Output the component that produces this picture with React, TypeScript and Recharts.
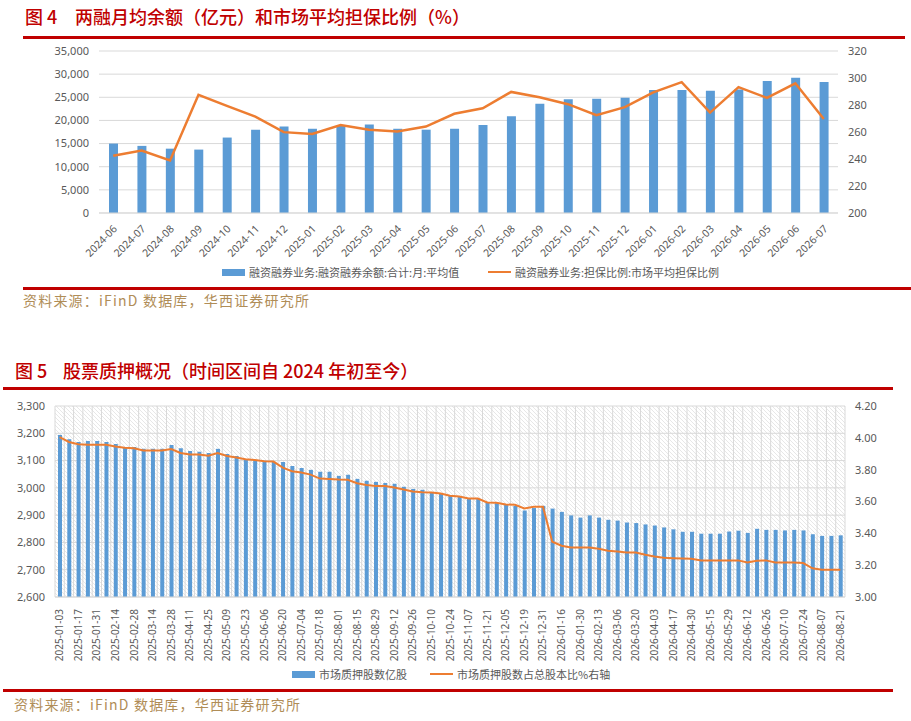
import React from "react";
import {
  ComposedChart,
  Bar,
  Line,
  XAxis,
  YAxis,
  CartesianGrid,
} from "recharts";

// 图4 两融月均余额 / 市场平均担保比例
const months = [
  "2024-06", "2024-07", "2024-08", "2024-09", "2024-10", "2024-11", "2024-12",
  "2025-01", "2025-02", "2025-03", "2025-04", "2025-05", "2025-06", "2025-07",
  "2025-08", "2025-09", "2025-10", "2025-11", "2025-12", "2026-01", "2026-02",
  "2026-03", "2026-04", "2026-05", "2026-06", "2026-07",
];
const marginBalance = [
  15000, 14500, 13900, 13700, 16300, 18000, 18700, 18200, 18800, 19100, 18200,
  18000, 18200, 19000, 20900, 23600, 24600, 24700, 24900, 26600, 26600, 26400,
  26700, 28500, 29200, 28300,
];
const collateralRatio = [
  242.4, 246.3, 238.9, 287.5, 279.3, 271.4, 259.9, 258.6, 265.1, 261.6, 260.3,
  264.0, 273.5, 277.6, 289.7, 285.8, 280.6, 272.5, 278.4, 289.4, 296.9, 274.4,
  293.2, 285.3, 296.1, 269.7,
];
const balanceTicks = [0, 5000, 10000, 15000, 20000, 25000, 30000, 35000];
const ratioTicks = [200, 220, 240, 260, 280, 300, 320];

// 图5 股票质押概况
const weeks = [
  "2025-01-03", "2025-01-10", "2025-01-17", "2025-01-24", "2025-01-31", "2025-02-07",
  "2025-02-14", "2025-02-21", "2025-02-28", "2025-03-07", "2025-03-14", "2025-03-21",
  "2025-03-28", "2025-04-04", "2025-04-11", "2025-04-18", "2025-04-25", "2025-05-02",
  "2025-05-09", "2025-05-16", "2025-05-23", "2025-05-30", "2025-06-06", "2025-06-13",
  "2025-06-20", "2025-06-27", "2025-07-04", "2025-07-11", "2025-07-18", "2025-07-25",
  "2025-08-01", "2025-08-08", "2025-08-15", "2025-08-22", "2025-08-29", "2025-09-05",
  "2025-09-12", "2025-09-19", "2025-09-26", "2025-10-03", "2025-10-10", "2025-10-17",
  "2025-10-24", "2025-10-31", "2025-11-07", "2025-11-14", "2025-11-21", "2025-11-28",
  "2025-12-05", "2025-12-12", "2025-12-19", "2025-12-26", "2025-12-31", "2026-01-09",
  "2026-01-16", "2026-01-23", "2026-01-30", "2026-02-06", "2026-02-13", "2026-02-27",
  "2026-03-06", "2026-03-13", "2026-03-20", "2026-03-27", "2026-04-03", "2026-04-10",
  "2026-04-17", "2026-04-24", "2026-04-30", "2026-05-08", "2026-05-15", "2026-05-22",
  "2026-05-29", "2026-06-05", "2026-06-12", "2026-06-19", "2026-06-26", "2026-07-03",
  "2026-07-10", "2026-07-17", "2026-07-24", "2026-07-31", "2026-08-07", "2026-08-14",
  "2026-08-21",
];
const pledgedShares = [
  3194, 3178, 3168, 3172, 3172, 3168, 3161, 3150, 3150, 3143,
  3143, 3143, 3157, 3145, 3135, 3132, 3128, 3143, 3124, 3117,
  3106, 3102, 3099, 3095, 3095, 3080, 3073, 3066, 3059, 3059,
  3044, 3048, 3033, 3026, 3022, 3018, 3015, 3004, 2996, 2993,
  2985, 2978, 2971, 2968, 2962, 2959, 2946, 2944, 2938, 2934,
  2917, 2926, 2934, 2924, 2912, 2899, 2891, 2899, 2891, 2883,
  2880, 2873, 2871, 2866, 2862, 2855, 2848, 2839, 2839, 2832,
  2832, 2832, 2840, 2843, 2835, 2850, 2846, 2846, 2844, 2846,
  2844, 2830, 2824, 2824, 2826,
];
const pledgeRatio = [
  4.004, 3.974, 3.96, 3.957, 3.957, 3.957, 3.945, 3.937, 3.934, 3.92,
  3.92, 3.92, 3.93, 3.905, 3.895, 3.895, 3.888, 3.905, 3.886, 3.876,
  3.865, 3.861, 3.853, 3.851, 3.813, 3.79, 3.782, 3.769, 3.744, 3.742,
  3.738, 3.736, 3.715, 3.704, 3.698, 3.698, 3.688, 3.675, 3.663, 3.658,
  3.656, 3.65, 3.636, 3.631, 3.619, 3.619, 3.594, 3.592, 3.581, 3.579,
  3.556, 3.567, 3.567, 3.347, 3.322, 3.311, 3.311, 3.311, 3.303, 3.291,
  3.286, 3.28, 3.28, 3.265, 3.255, 3.247, 3.244, 3.242, 3.24, 3.23,
  3.23, 3.23, 3.23, 3.23, 3.217, 3.228, 3.23, 3.217, 3.217, 3.217,
  3.213, 3.18, 3.171, 3.171, 3.171,
];
const sharesTicks = [2600, 2700, 2800, 2900, 3000, 3100, 3200, 3300];
const pctTicks = [3.0, 3.2, 3.4, 3.6, 3.8, 4.0, 4.2];

const BLUE = "#5b9bd5";
const ORANGE = "#ed7d31";
const RED = "#c00000";
const AXIS_TEXT = "#595959";
const GRID = "#d9d9d9";
const SOURCE = "#b08d57";
const FONT = '"Noto Sans", "Noto Sans CJK SC", sans-serif';
const CJK = '"Noto Sans CJK SC", sans-serif';

const data1 = months.map((m, i) => ({
  month: m,
  balance: marginBalance[i],
  ratio: collateralRatio[i],
}));

const data2 = weeks.map((d, i) => ({
  date: d,
  shares: pledgedShares[i],
  pct: pledgeRatio[i],
}));

const MonthTick = ({ x, y, payload }: any) => (
  <text
    x={x + 2}
    y={y + 6}
    dy="0.35em"
    textAnchor="end"
    fill={AXIS_TEXT}
    fontSize={10.5}
    fontFamily={FONT}
    transform={`rotate(-45, ${x + 2}, ${y + 6})`}
  >
    {payload.value}
  </text>
);

const DateTick = ({ x, y, payload }: any) => (
  <text
    x={x}
    y={y + 4}
    dy="0.35em"
    textAnchor="end"
    fill={AXIS_TEXT}
    fontSize={10}
    fontFamily={FONT}
    transform={`rotate(-90, ${x}, ${y + 4})`}
  >
    {payload.value}
  </text>
);

const Rule = ({ top, left, right }: { top: number; left: number; right: number }) => (
  <div
    style={{
      position: "absolute",
      top,
      left,
      width: right - left,
      height: 3,
      background: RED,
    }}
  />
);

const Title = ({ top, left, label, gap, text }: any) => (
  <div
    style={{
      position: "absolute",
      top,
      left,
      color: RED,
      fontFamily: CJK,
      fontSize: 18,
      fontWeight: 500,
      whiteSpace: "pre",
      lineHeight: "22px",
    }}
  >
    <span style={{ display: "inline-block", width: gap }}>{label}</span>
    <span>{text}</span>
  </div>
);

const Source = ({ top, left }: { top: number; left: number }) => (
  <div
    style={{
      position: "absolute",
      top,
      left,
      color: SOURCE,
      fontFamily: CJK,
      fontSize: 14,
      letterSpacing: 1.2,
      lineHeight: "18px",
      whiteSpace: "pre",
    }}
  >
    资料来源：iFinD 数据库，华西证券研究所
  </div>
);

const LegendItem = ({ top, left, kind, label }: any) => (
  <div
    style={{
      position: "absolute",
      top,
      left,
      display: "flex",
      alignItems: "center",
      fontFamily: CJK,
      fontSize: 11,
      color: AXIS_TEXT,
      whiteSpace: "pre",
      lineHeight: "14px",
    }}
  >
    <span
      style={{
        display: "inline-block",
        width: 23,
        height: kind === "bar" ? 7 : 2.5,
        background: kind === "bar" ? BLUE : ORANGE,
        marginRight: 4,
      }}
    />
    {label}
  </div>
);

export default function App() {
  return (
    <div
      style={{
        position: "absolute",
        top: 0,
        left: 0,
        width: 911,
        height: 721,
        background: "#fff",
        overflow: "hidden",
      }}
    >
      <Title
        top={5}
        left={25}
        gap={50}
        label="图 4"
        text="两融月均余额（亿元）和市场平均担保比例（%）"
      />
      <Rule top={36} left={23} right={905} />

      <div style={{ position: "absolute", top: 0, left: 0 }}>
        <ComposedChart
          width={911}
          height={300}
          data={data1}
          margin={{ top: 51, right: 28, bottom: 37, left: 39 }}
        >
          <CartesianGrid yAxisId="left" vertical={false} stroke={GRID} />
          <XAxis
            dataKey="month"
            interval={0}
            height={50}
            tickLine={false}
            axisLine={{ stroke: GRID }}
            tick={<MonthTick />}
          />
          <YAxis
            yAxisId="left"
            width={60}
            domain={[0, 35000]}
            ticks={balanceTicks}
            axisLine={false}
            tickLine={false}
            tickMargin={4}
            tick={{ fill: AXIS_TEXT, fontSize: 11, fontFamily: FONT }}
            tickFormatter={(v: number) => v.toLocaleString("en-US")}
          />
          <YAxis
            yAxisId="right"
            orientation="right"
            width={45}
            domain={[200, 320]}
            ticks={ratioTicks}
            axisLine={false}
            tickLine={false}
            tickMargin={4}
            tick={{ fill: AXIS_TEXT, fontSize: 11, fontFamily: FONT }}
          />
          <Bar
            yAxisId="left"
            dataKey="balance"
            fill={BLUE}
            barSize={9}
            isAnimationActive={false}
          />
          <Line
            yAxisId="right"
            dataKey="ratio"
            type="linear"
            stroke={ORANGE}
            strokeWidth={2.5}
            dot={false}
            activeDot={false}
            isAnimationActive={false}
          />
        </ComposedChart>
      </div>

      <LegendItem
        top={265}
        left={222}
        kind="bar"
        label="融资融券业务:融资融券余额:合计:月:平均值"
      />
      <LegendItem
        top={265}
        left={488}
        kind="line"
        label="融资融券业务:担保比例:市场平均担保比例"
      />
      <Rule top={287} left={23} right={911} />
      <Source top={291} left={23} />

      <Title
        top={359}
        left={15}
        gap={48}
        label="图 5"
        text="股票质押概况（时间区间自 2024 年初至今）"
      />
      <Rule top={387} left={3} right={893} />

      <div style={{ position: "absolute", top: 390, left: 0 }}>
        <ComposedChart
          width={911}
          height={280}
          data={data2}
          margin={{ top: 16, right: 21, bottom: 13, left: 10 }}
        >
          <defs>
            <pattern
              id="hatch"
              width={4}
              height={4}
              patternUnits="userSpaceOnUse"
            >
              <path d="M-1,-1 L5,5 M-1,3 L1,5 M3,-1 L5,1" stroke="#dcdcdc" strokeWidth={0.7} />
            </pattern>
          </defs>
          <CartesianGrid
            yAxisId="left"
            stroke={GRID}
            fill="url(#hatch)"
            fillOpacity={1}
            verticalCoordinatesGenerator={({ offset }: any) =>
              Array.from(
                { length: data2.length + 1 },
                (_, i) => offset.left + (i * offset.width) / data2.length
              )
            }
          />
          <XAxis
            dataKey="date"
            interval={1}
            height={60}
            tickLine={false}
            axisLine={{ stroke: GRID }}
            tick={<DateTick />}
          />
          <YAxis
            yAxisId="left"
            width={45}
            domain={[2600, 3300]}
            ticks={sharesTicks}
            axisLine={false}
            tickLine={false}
            tickMargin={4}
            tick={{ fill: AXIS_TEXT, fontSize: 11, fontFamily: FONT }}
            tickFormatter={(v: number) => v.toLocaleString("en-US")}
          />
          <YAxis
            yAxisId="right"
            orientation="right"
            width={45}
            domain={[3.0, 4.2]}
            ticks={pctTicks}
            axisLine={false}
            tickLine={false}
            tickMargin={4}
            tick={{ fill: AXIS_TEXT, fontSize: 11, fontFamily: FONT }}
            tickFormatter={(v: number) => v.toFixed(2)}
          />
          <Bar
            yAxisId="left"
            dataKey="shares"
            fill={BLUE}
            barSize={4}
            isAnimationActive={false}
          />
          <Line
            yAxisId="right"
            dataKey="pct"
            type="linear"
            stroke={ORANGE}
            strokeWidth={2}
            dot={false}
            activeDot={false}
            isAnimationActive={false}
          />
        </ComposedChart>
      </div>

      <LegendItem top={667} left={292} kind="bar" label="市场质押股数亿股" />
      <LegendItem
        top={667}
        left={430}
        kind="line"
        label="市场质押股数占总股本比%右轴"
      />
      <Rule top={689} left={3} right={893} />
      <Source top={695} left={14} />
    </div>
  );
}
